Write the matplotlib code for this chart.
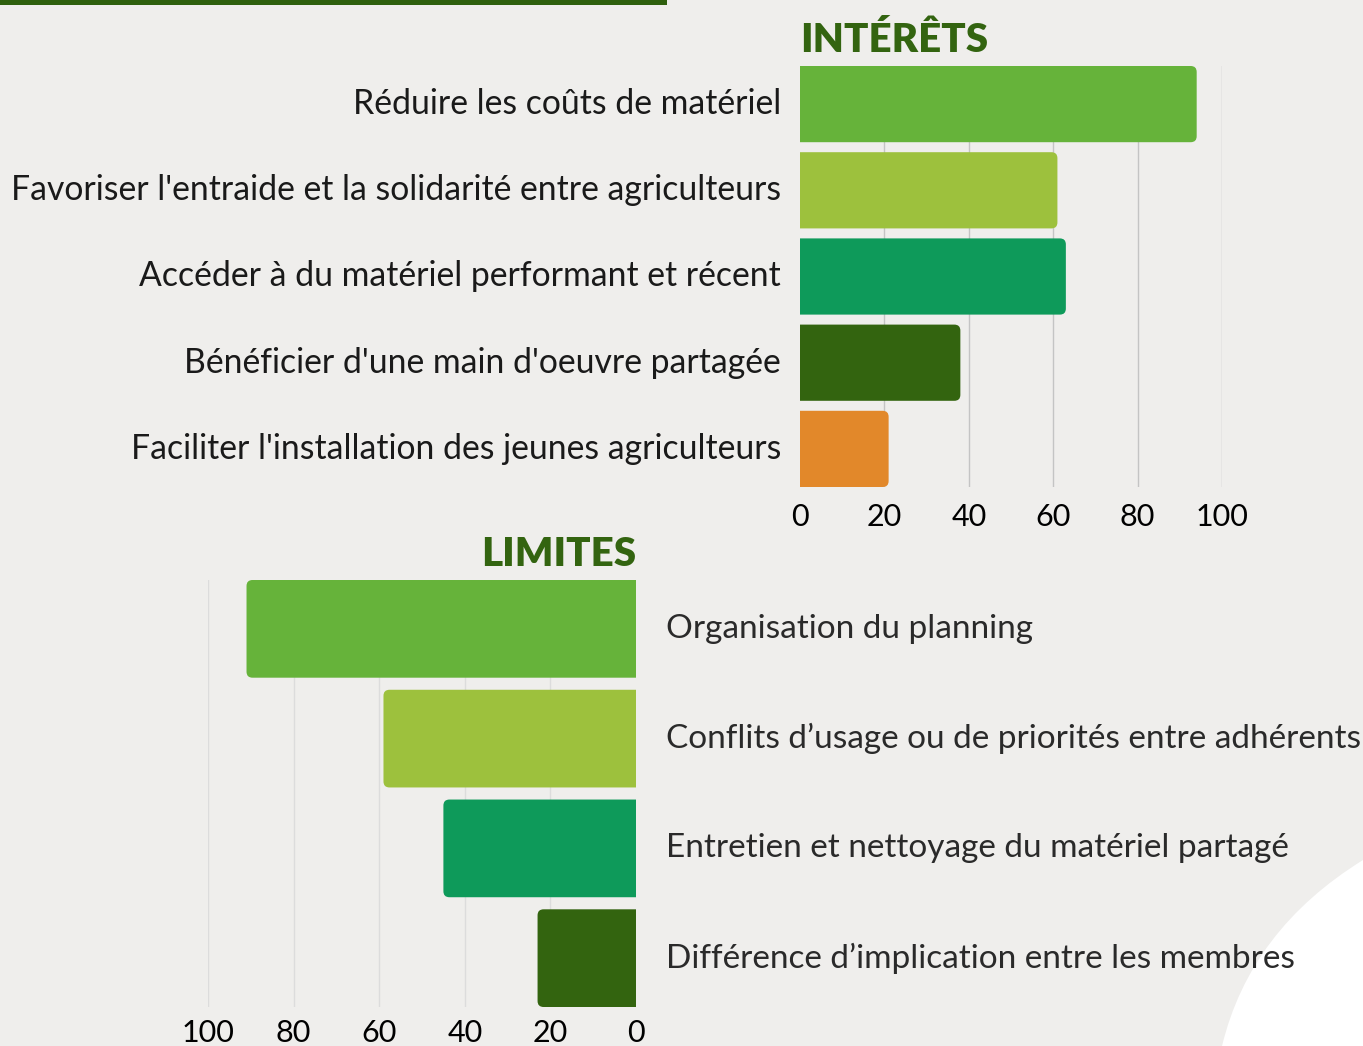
import matplotlib.pyplot as plt
from matplotlib.patches import PathPatch, Rectangle, FancyBboxPatch
from matplotlib.path import Path

plt.rcParams['font.family'] = ['Lato', 'DejaVu Sans']

BG = "#efeeec"
TITLE_GREEN = "#336410"

interets_labels = [
    "Réduire les coûts de matériel",
    "Favoriser l'entraide et la solidarité entre agriculteurs",
    "Accéder à du matériel performant et récent",
    "Bénéficier d'une main d'oeuvre partagée",
    "Faciliter l'installation des jeunes agriculteurs",
]
interets_values = [94, 61, 63, 38, 21]
interets_colors = ["#66b33a", "#9dc13d", "#0e9a5a", "#33640f", "#e2882a"]

limites_labels = [
    "Organisation du planning",
    "Conflits d’usage ou de priorités entre adhérents",
    "Entretien et nettoyage du matériel partagé",
    "Différence d’implication entre les membres",
]
limites_values = [91, 59, 45, 23]
limites_colors = ["#66b33a", "#9dc13d", "#0e9a5a", "#33640f"]

ticks = [0, 20, 40, 60, 80, 100]

W, H = 1363, 1046
fig = plt.figure(figsize=(W / 100, H / 100), dpi=100, facecolor=BG)

# decorative bits: green rule top-left and white curve bottom-right (behind the charts)
fig.patches.append(Rectangle((0, 1 - 5 / H), 667 / W, 5 / H, transform=fig.transFigure,
                             facecolor="#2f600e", edgecolor="none", zorder=-1))
verts = [(1363 / W, 1 - 860 / H), (1250 / W, 1 - 930 / H), (1222 / W, 0),
         (1, 0), (1363 / W, 1 - 860 / H)]
codes = [Path.MOVETO, Path.CURVE3, Path.CURVE3, Path.LINETO, Path.CLOSEPOLY]
fig.patches.append(PathPatch(Path(verts, codes), transform=fig.transFigure,
                             facecolor="white", edgecolor="none", zorder=-1))


def px_axes(left, top, right, bottom):
    return fig.add_axes([left / W, 1 - bottom / H, (right - left) / W, (bottom - top) / H])


def style(ax, grid_color, pad):
    ax.set_facecolor("none")
    for s in ax.spines.values():
        s.set_visible(False)
    ax.tick_params(length=0, labelsize=22, pad=pad)
    ax.set_xticks(ticks)
    ax.set_yticks([])
    for t in ticks[1:]:
        ax.axvline(t, color=grid_color, lw=1, zorder=0)


def round_bars(ax, bars, radius_px=6):
    # swap the square bars for rounded ones; the side on the axis stays square (clipped)
    fig.canvas.draw()
    x0, x1 = ax.get_xlim()
    y0, y1 = ax.get_ylim()
    bb = ax.get_window_extent()
    xs = abs(x1 - x0) / bb.width   # data units per pixel
    ys = abs(y1 - y0) / bb.height
    r = radius_px * xs
    for b in bars:
        x, y, w, h = b.get_x(), b.get_y(), b.get_width(), b.get_height()
        fb = FancyBboxPatch((x - 2 * r, y), w + 2 * r, h,
                            boxstyle=f"round,pad=0,rounding_size={r}",
                            mutation_aspect=ys / xs,
                            facecolor=b.get_facecolor(), edgecolor="none", zorder=2)
        ax.add_patch(fb)
        b.remove()


# INTÉRÊTS
ax1 = px_axes(800, 66, 1222, 487)
n1 = len(interets_values)
bars1 = ax1.barh(range(n1), interets_values, height=0.884, color=interets_colors, zorder=2)
ax1.set_xlim(0, 100)
ax1.set_ylim(n1 - 0.558, -0.442)
style(ax1, "#c4c4c4", 11.5)
for i, lab in enumerate(interets_labels):
    ax1.annotate(lab, (0, i), xytext=(-19, 0), textcoords="offset pixels",
                 ha="right", va="center", fontsize=24.3, color="#1a1a1a")
fig.text(800 / W, 1 - 52 / H, "INTÉRÊTS", fontsize=29, fontweight="heavy",
         color=TITLE_GREEN, ha="left", va="baseline")

# LIMITES
ax2 = px_axes(208, 580, 636, 1007)
n2 = len(limites_values)
bars2 = ax2.barh(range(n2), limites_values, height=0.89, color=limites_colors, zorder=2)
ax2.set_xlim(100, 0)
ax2.set_ylim(n2 - 0.555, -0.445)
style(ax2, "#dcdcdc", 8.5)
for i, lab in enumerate(limites_labels):
    ax2.annotate(lab, (0, i), xytext=(30, 0), textcoords="offset pixels",
                 ha="left", va="center", fontsize=24, color="#2a2a2a")
fig.text(636 / W, 1 - 566 / H, "LIMITES", fontsize=29, fontweight="heavy",
         color=TITLE_GREEN, ha="right", va="baseline")

round_bars(ax1, bars1)
round_bars(ax2, bars2)

fig.savefig("out.png", dpi=100, facecolor=BG)
